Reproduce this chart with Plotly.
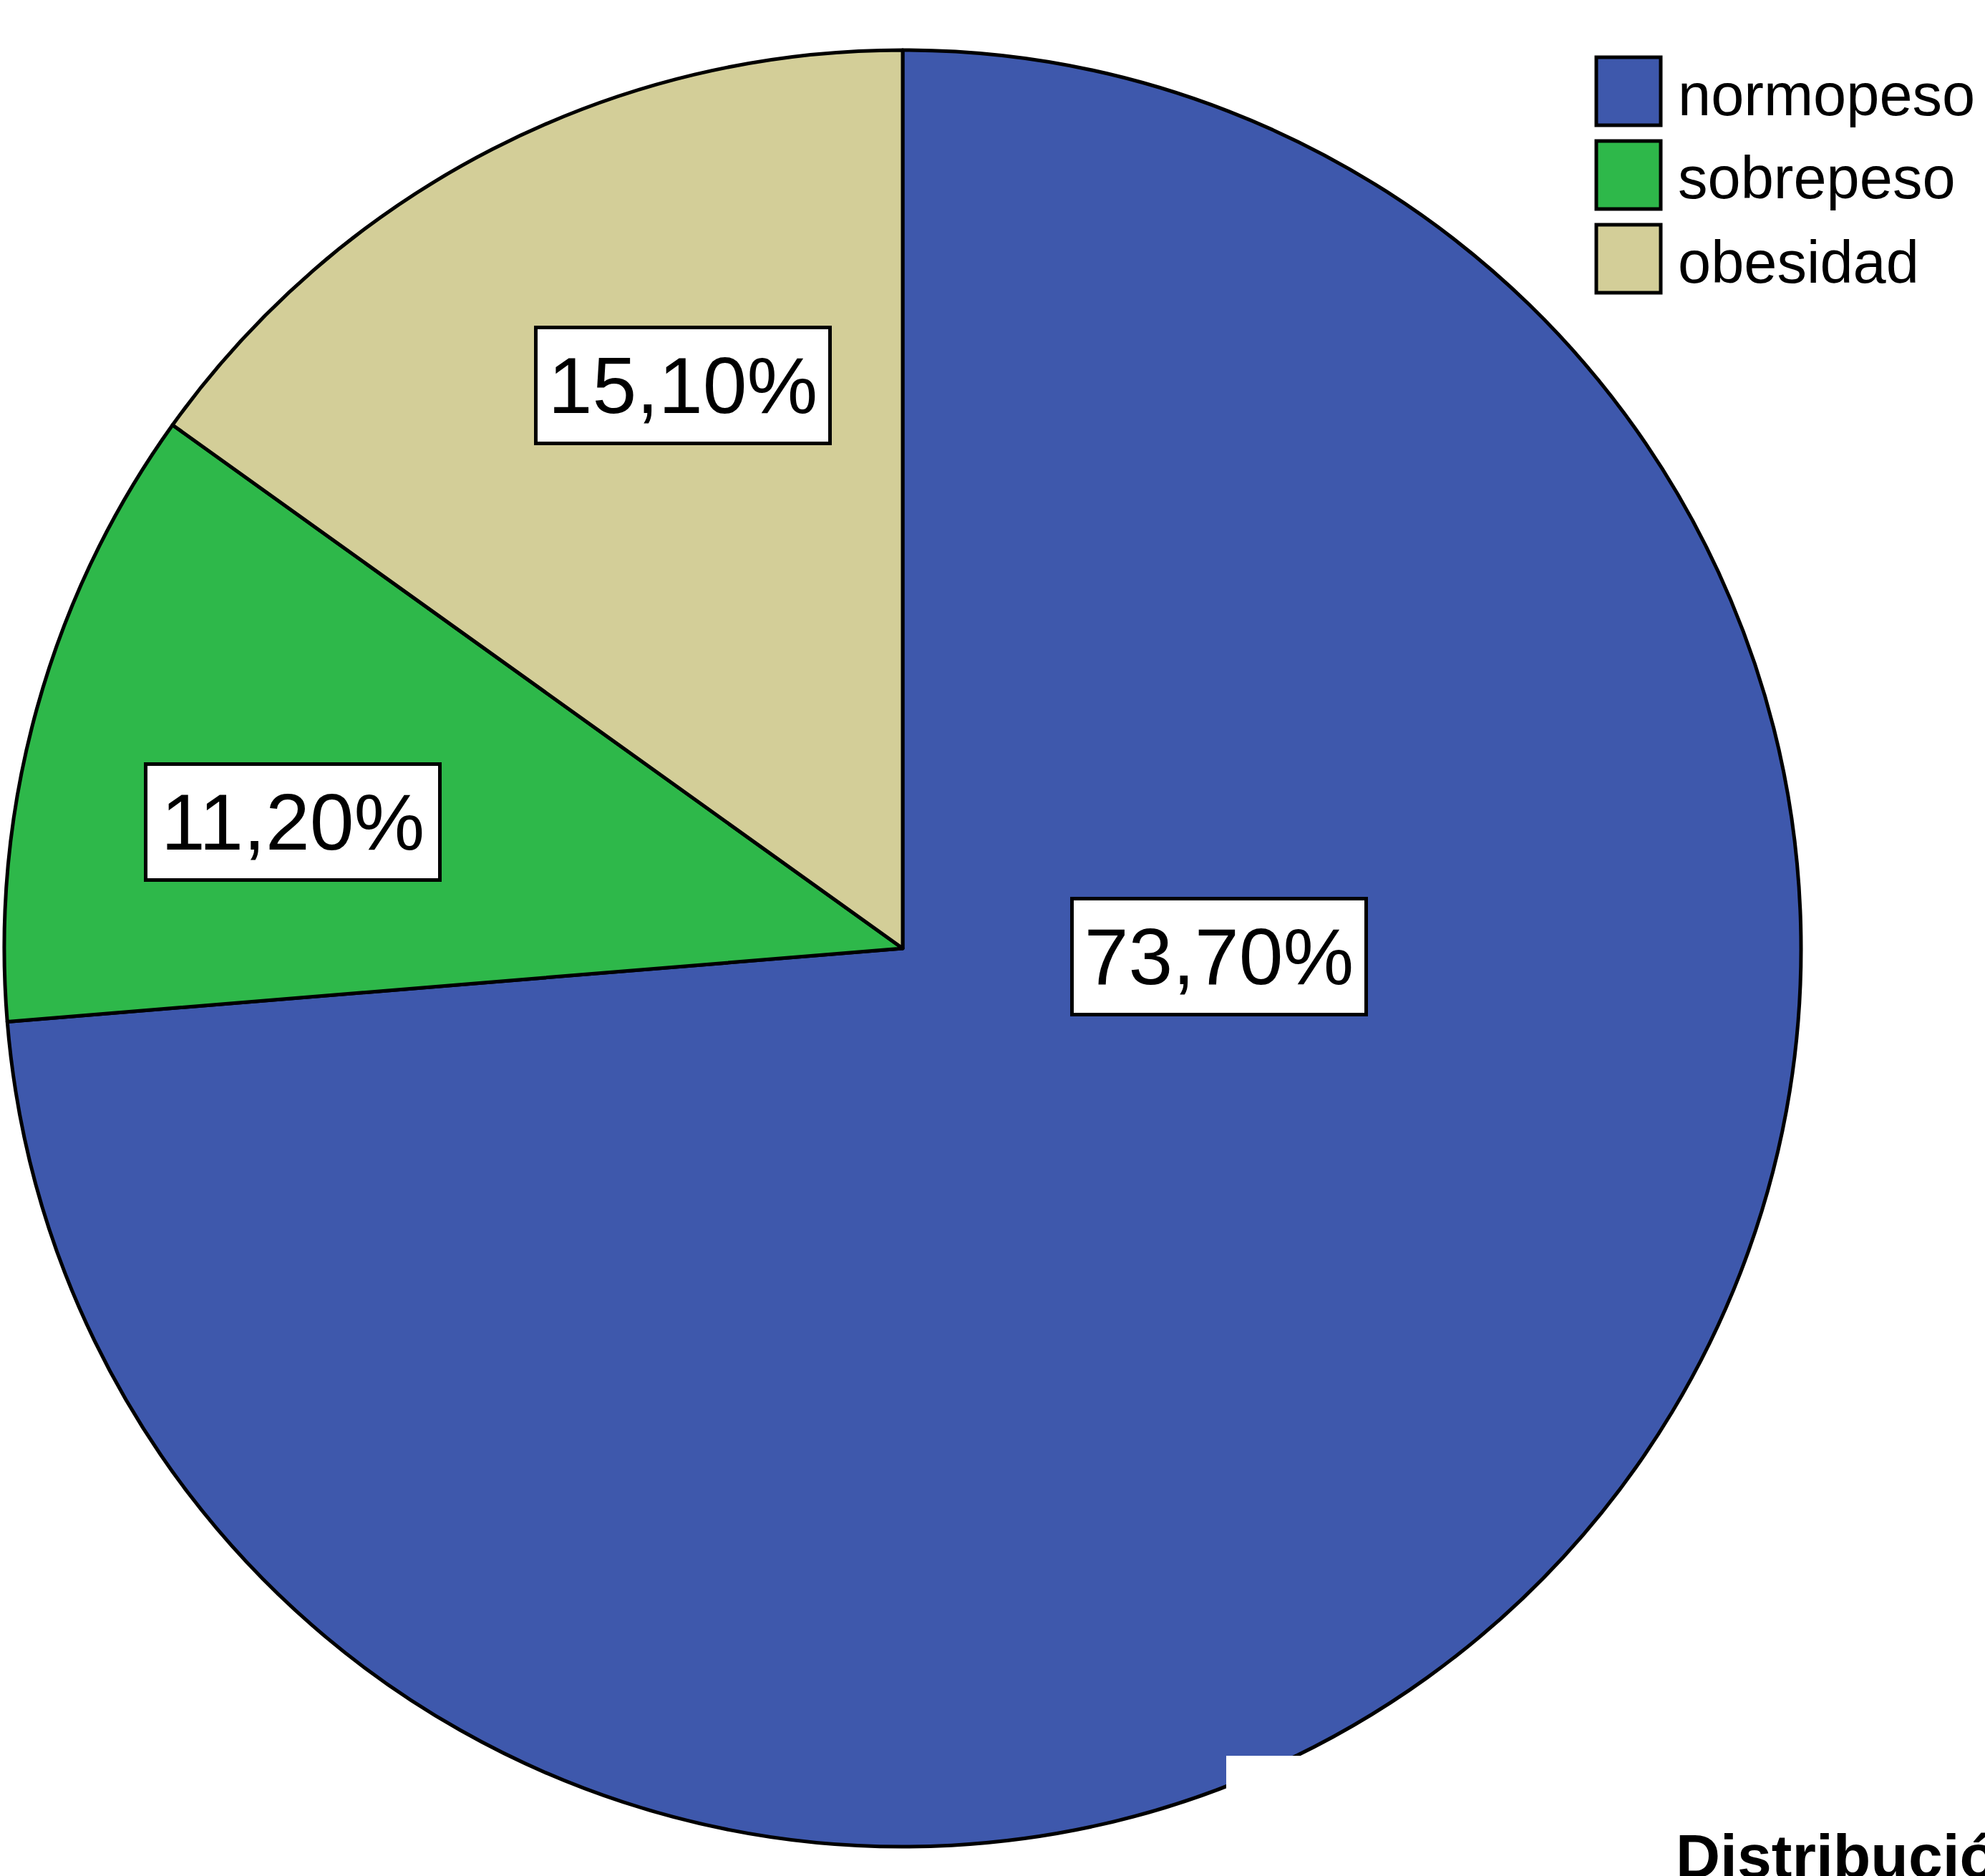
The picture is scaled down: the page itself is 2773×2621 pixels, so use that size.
import plotly.graph_objects as go

# ---- data ----
categories = ["normopeso", "sobrepeso", "obesidad"]
percentages = [73.7, 11.2, 15.1]
colors = ["#3E58AC", "#2EB84A", "#D3CE98"]
title_text = "Distribución"

# ---- page geometry (pixels) ----
W, H = 2773, 2621
cx, cy, r = 1261, 1325, 1255


def px(x):
    return x / W


def py(y):
    return 1 - y / H


fig = go.Figure(
    go.Pie(
        labels=categories,
        values=percentages,
        marker=dict(colors=colors, line=dict(color="black", width=5)),
        sort=False,
        direction="clockwise",
        rotation=0,
        textinfo="none",
        hoverinfo="label+percent",
        showlegend=False,
        domain=dict(x=[px(cx - r), px(cx + r)], y=[py(cy + r), py(cy - r)]),
    )
)

annotations = []
shapes = []

# value labels in white boxes
label_pos = [(1703, 1336), (409, 1148), (954, 538)]
for v, (lx, ly) in zip(percentages, label_pos):
    annotations.append(
        dict(
            x=px(lx), y=py(ly), xref="paper", yref="paper",
            xanchor="center", yanchor="middle",
            text=f"{v:.2f}%".replace(".", ","),
            showarrow=False,
            font=dict(family="Liberation Sans, Arial", size=111, color="black"),
            bgcolor="white", bordercolor="black", borderwidth=5, borderpad=0,
            width=406, height=157,
        )
    )

# custom legend (large swatches)
for i, (name, col) in enumerate(zip(categories, colors)):
    top = 80 + i * 117
    shapes.append(
        dict(
            type="rect", xref="paper", yref="paper",
            x0=px(2230), x1=px(2320), y0=py(top + 95), y1=py(top),
            fillcolor=col, line=dict(color="black", width=5), layer="above",
        )
    )
    annotations.append(
        dict(
            x=px(2343), y=py(top + 52), xref="paper", yref="paper",
            xanchor="left", yanchor="middle", text=name, showarrow=False,
            font=dict(family="Liberation Sans, Arial", size=83, color="black"),
            borderpad=0,
        )
    )

# title background box (covers part of the pie, as in the reference)
shapes.append(
    dict(
        type="rect", xref="paper", yref="paper",
        x0=px(1713), x1=px(W + 10), y0=py(H + 10), y1=py(2453),
        fillcolor="white", line=dict(width=0), layer="above",
    )
)
annotations.append(
    dict(
        x=px(2340), y=py(2622), xref="paper", yref="paper",
        xanchor="left", yanchor="bottom", yshift=-20,
        text=f"<b>{title_text}</b>", showarrow=False,
        font=dict(family="Liberation Sans, Arial", size=86, color="black"),
        borderpad=0,
    )
)

fig.update_layout(
    width=W, height=H,
    margin=dict(l=0, r=0, t=0, b=0),
    paper_bgcolor="white", plot_bgcolor="white",
    annotations=annotations, shapes=shapes,
)

fig.write_html(
    "out.html",
    config={"displayModeBar": False},
    post_script="document.body.style.margin='0';document.body.style.overflow='hidden';",
)
